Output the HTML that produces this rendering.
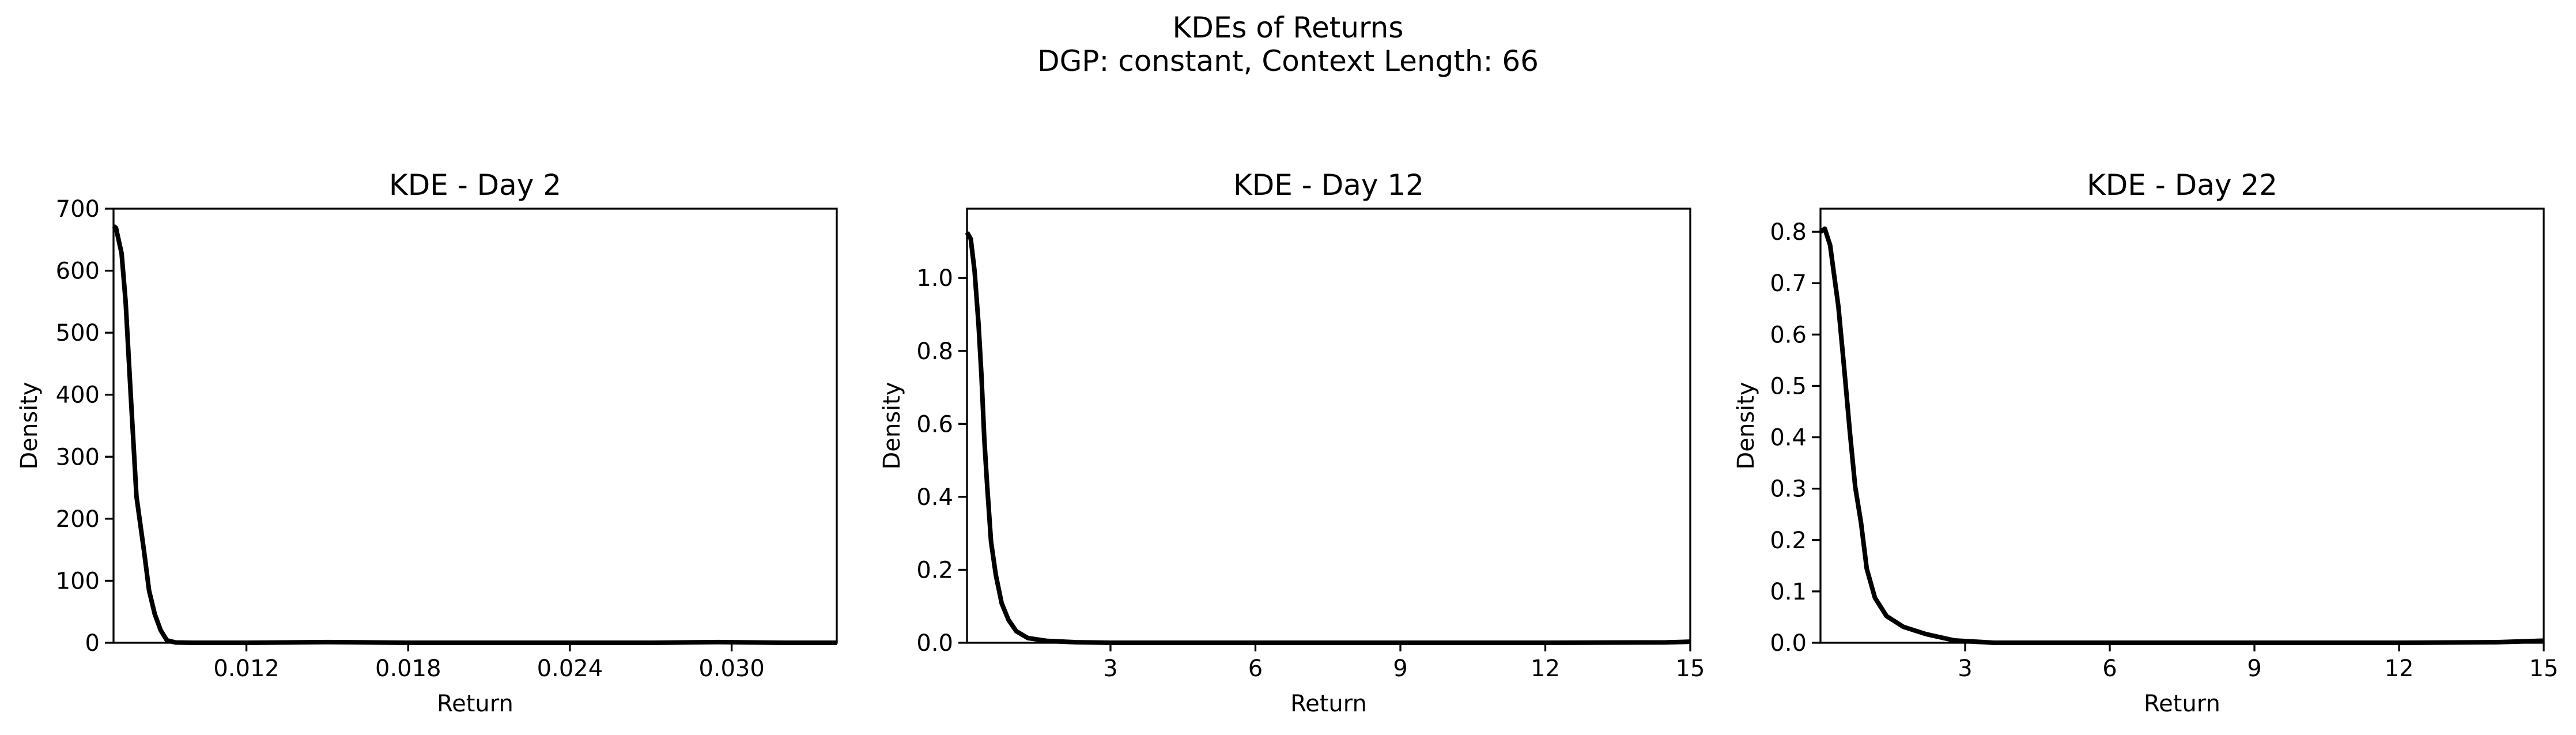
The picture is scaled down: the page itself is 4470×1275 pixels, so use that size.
<!DOCTYPE html>
<html><head><meta charset="utf-8"><style>
html,body{margin:0;padding:0;background:#fff;}
svg{display:block;font-family:"DejaVu Sans","Liberation Sans",sans-serif;}
</style></head><body>
<svg id="fig" xmlns="http://www.w3.org/2000/svg" width="4470" height="1275" viewBox="0 0 4470 1275">
<rect width="4470" height="1275" fill="#fff"/>
<text x="2235" y="65" font-size="50" text-anchor="middle">KDEs of Returns</text>
<text x="2235" y="123" font-size="50" text-anchor="middle">DGP: constant, Context Length: 66</text>
</svg>
<script>
// Panel 1: Day 2
const day2X = [0.00707,0.00716,0.00737,0.00752,0.00771,0.00792,0.00820,0.00839,0.00860,0.00882,0.00905,0.00937,0.0100,0.0120,0.0150,0.0180,0.0210,0.0240,0.0270,0.0295,0.0320,0.0339];
const day2Y = [672,669,628,550,399,236,148,84,46,20,4,0.5,0,0,1,0,0,0,0,1,0,0];
const day2XTicks = [0.012,0.018,0.024,0.030];
const day2XTickLabels = ["0.012","0.018","0.024","0.030"];
const day2YTicks = [0,100,200,300,400,500,600,700];
const day2YTickLabels = ["0","100","200","300","400","500","600","700"];
// Panel 2: Day 12
const day12X = [0.03,0.108,0.188,0.268,0.328,0.388,0.448,0.528,0.628,0.748,0.888,1.048,1.288,1.69,2.29,3,6,9,12,14.5,15];
const day12Y = [1.125,1.107,1.018,0.873,0.735,0.559,0.43,0.277,0.185,0.108,0.063,0.032,0.013,0.005,0.0015,0,0,0,0,0.001,0.003];
const day12XTicks = [3,6,9,12,15];
const day12XTickLabels = ["3","6","9","12","15"];
const day12YTicks = [0,0.2,0.4,0.6,0.8,1.0];
const day12YTickLabels = ["0.0","0.2","0.4","0.6","0.8","1.0"];
// Panel 3: Day 22
const day22X = [0.0,0.09,0.2,0.28,0.37,0.49,0.61,0.72,0.84,0.96,1.13,1.37,1.72,2.19,2.78,3.6,6,9,12,14,15];
const day22Y = [0.80,0.806,0.774,0.718,0.655,0.536,0.41,0.304,0.234,0.144,0.0875,0.052,0.031,0.0168,0.0045,0,0,0,0,0.001,0.004];
const day22XTicks = [3,6,9,12,15];
const day22XTickLabels = ["3","6","9","12","15"];
const day22YTicks = [0,0.1,0.2,0.3,0.4,0.5,0.6,0.7,0.8];
const day22YTickLabels = ["0.0","0.1","0.2","0.3","0.4","0.5","0.6","0.7","0.8"];

const NS="http://www.w3.org/2000/svg";
const fig=document.getElementById('fig');
function mk(tag,attrs,parent){const e=document.createElementNS(NS,tag);for(const k in attrs)e.setAttribute(k,attrs[k]);(parent||fig).appendChild(e);return e;}

const panels=[
 {title:"KDE - Day 2",left:197,xmin:0.00707,xmax:0.0339,ymax:700,xs:day2X,ys:day2Y,xt:day2XTicks,xl:day2XTickLabels,yt:day2YTicks,yl:day2YTickLabels,ylabX:51,key:"day-2"},
 {title:"KDE - Day 12",left:1678,xmin:0.03,xmax:15,ymax:1.19,xs:day12X,ys:day12Y,xt:day12XTicks,xl:day12XTickLabels,yt:day12YTicks,yl:day12YTickLabels,ylabX:1548,key:"day-12"},
 {title:"KDE - Day 22",left:3159,xmin:0.0,xmax:15,ymax:0.845,xs:day22X,ys:day22Y,xt:day22XTicks,xl:day22XTickLabels,yt:day22YTicks,yl:day22YTickLabels,ylabX:3030,key:"day-22"}
];
const W=1255,TOP=362,BOT=1115;
panels.forEach(p=>{
  const g=mk('g',{});
  
  
  const sx=v=>p.left+(v-p.xmin)/(p.xmax-p.xmin)*W;
  const sy=v=>BOT-v/p.ymax*(BOT-TOP);
  const d=p.xs.map((x,i)=>(i?'L':'M')+sx(x).toFixed(1)+' '+sy(p.ys[i]).toFixed(1)).join(' ');
  const path=mk('path',{d:d,fill:'none',stroke:'#000','stroke-width':8,'stroke-linejoin':'round'},g);
  
  
  const fr=mk('rect',{x:p.left,y:TOP,width:W,height:BOT-TOP,fill:'none',stroke:'#000','stroke-width':3.3},g);
  
  
  p.xt.forEach((t,i)=>{
    const x=sx(t);
    mk('line',{x1:x,x2:x,y1:BOT,y2:BOT+15,stroke:'#000','stroke-width':3.3},g);
    const tx=mk('text',{x:x,y:BOT+58,'font-size':40,'text-anchor':'middle'},g);
    tx.textContent=p.xl[i];
    
    
  });
  p.yt.forEach((t,i)=>{
    const y=sy(t);
    mk('line',{x1:p.left-15,x2:p.left,y1:y,y2:y,stroke:'#000','stroke-width':3.3},g);
    const tx=mk('text',{x:p.left-24,y:y+14,'font-size':40,'text-anchor':'end'},g);
    tx.textContent=p.yl[i];
    
    
  });
  const ti=mk('text',{x:p.left+W/2,y:338,'font-size':50,'text-anchor':'middle'},g);
  ti.textContent=p.title;
  
  
  const xl=mk('text',{x:p.left+W/2,y:1234,'font-size':40,'text-anchor':'middle'},g);
  xl.textContent="Return";
  
  
  const yc=(TOP+BOT)/2;
  const yl=mk('text',{x:p.ylabX,y:yc,'font-size':40,'text-anchor':'middle',transform:'rotate(-90 '+p.ylabX+' '+yc+')','dominant-baseline':'central'},g);
  yl.textContent="Density";
  
  
});
</script>
</body></html>
